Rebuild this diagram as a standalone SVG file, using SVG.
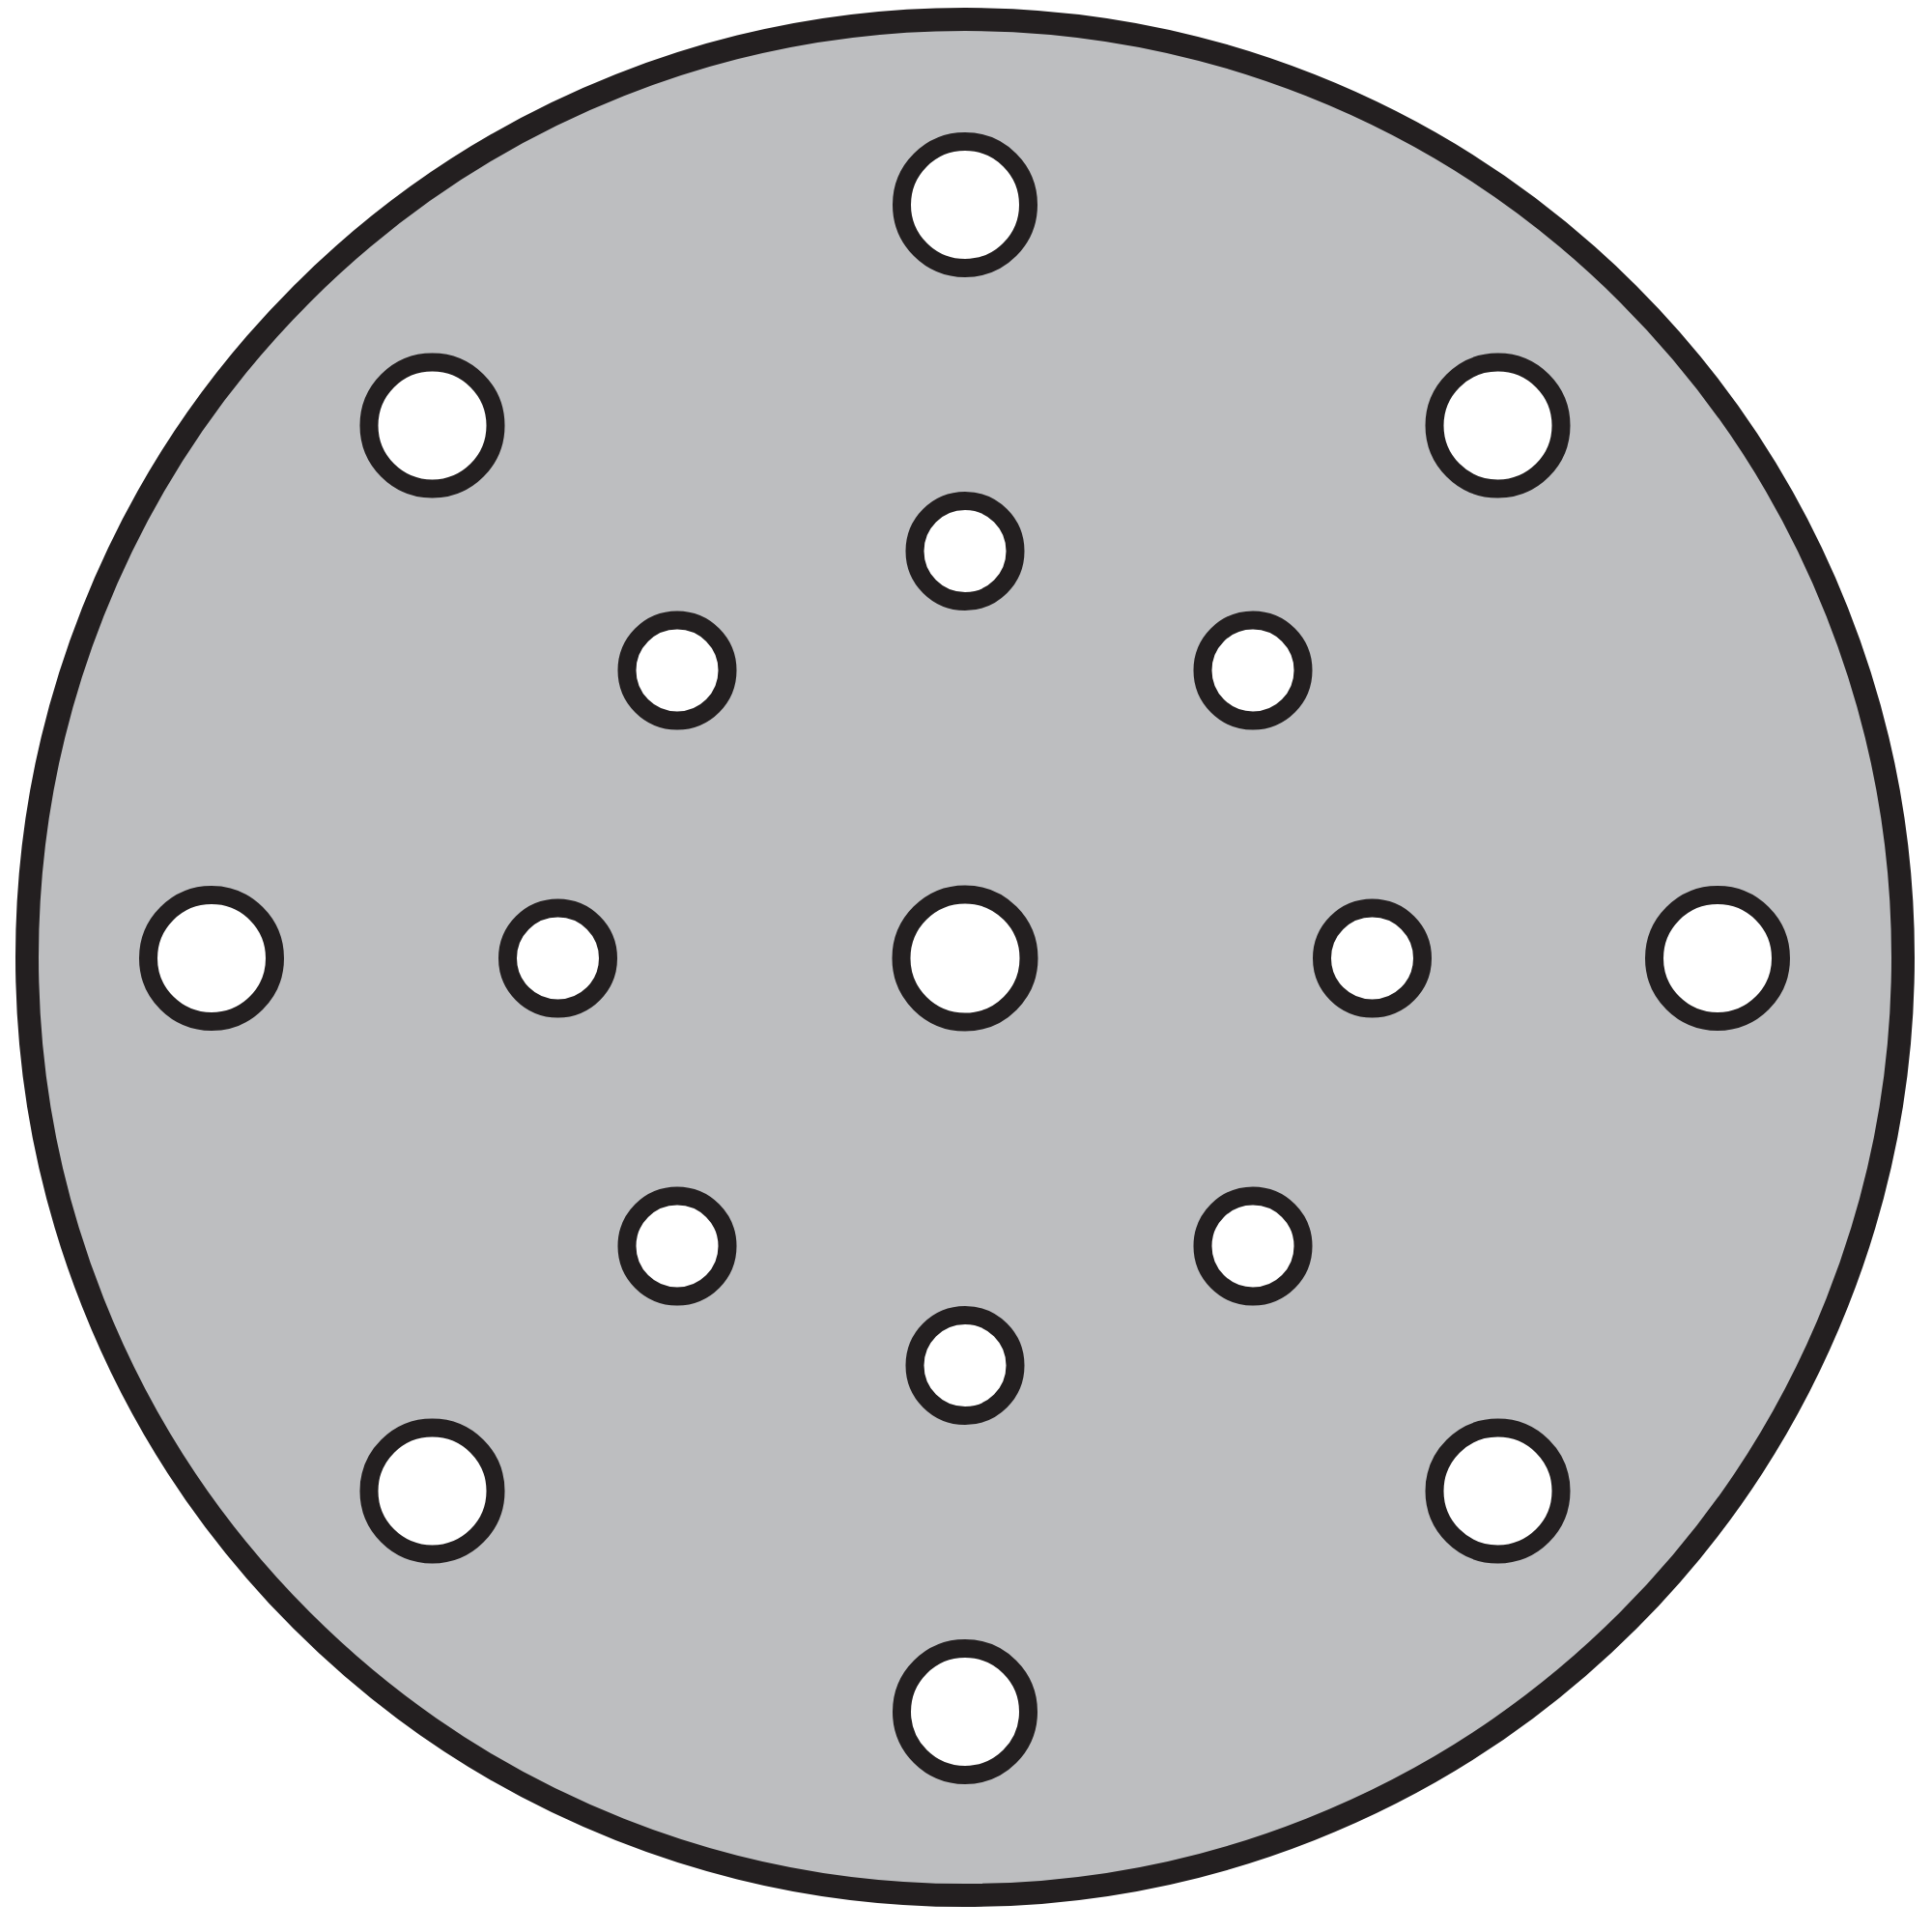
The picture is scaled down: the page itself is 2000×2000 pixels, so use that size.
<svg xmlns="http://www.w3.org/2000/svg" width="2000" height="2000" viewBox="0 0 2000 2000">
  <style>
    .disc { fill: #bdbec0; stroke: #231f20; stroke-width: 24; }
    .big { fill: #ffffff; stroke: #231f20; stroke-width: 19; }
    .small { fill: #ffffff; stroke: #231f20; stroke-width: 19; }
  </style>
  <rect x="0" y="0" width="2000" height="2000" fill="#ffffff"/>
  <g id="disc">
    <circle class="disc" cx="999" cy="991" r="971"/>
  </g>
  <g id="big-holes" transform="translate(999 992)">
    <circle class="big" cx="0" cy="0" r="66"/>
    <circle class="big" cx="0" cy="-780" r="65.5"/>
    <circle class="big" cx="551.5" cy="-551.5" r="65.5"/>
    <circle class="big" cx="779" cy="0" r="65.5"/>
    <circle class="big" cx="551.5" cy="551.5" r="65.5"/>
    <circle class="big" cx="0" cy="780" r="65.5"/>
    <circle class="big" cx="-551.5" cy="551.5" r="65.5"/>
    <circle class="big" cx="-780" cy="0" r="65.5"/>
    <circle class="big" cx="-551.5" cy="-551.5" r="65.5"/>
  </g>
  <g id="small-holes" transform="translate(999 992)">
    <circle class="small" cx="0" cy="-421.5" r="52"/>
    <circle class="small" cx="298" cy="-298" r="52"/>
    <circle class="small" cx="421.5" cy="0" r="52"/>
    <circle class="small" cx="298" cy="298" r="52"/>
    <circle class="small" cx="0" cy="421.5" r="52"/>
    <circle class="small" cx="-298" cy="298" r="52"/>
    <circle class="small" cx="-421.5" cy="0" r="52"/>
    <circle class="small" cx="-298" cy="-298" r="52"/>
  </g>
</svg>
